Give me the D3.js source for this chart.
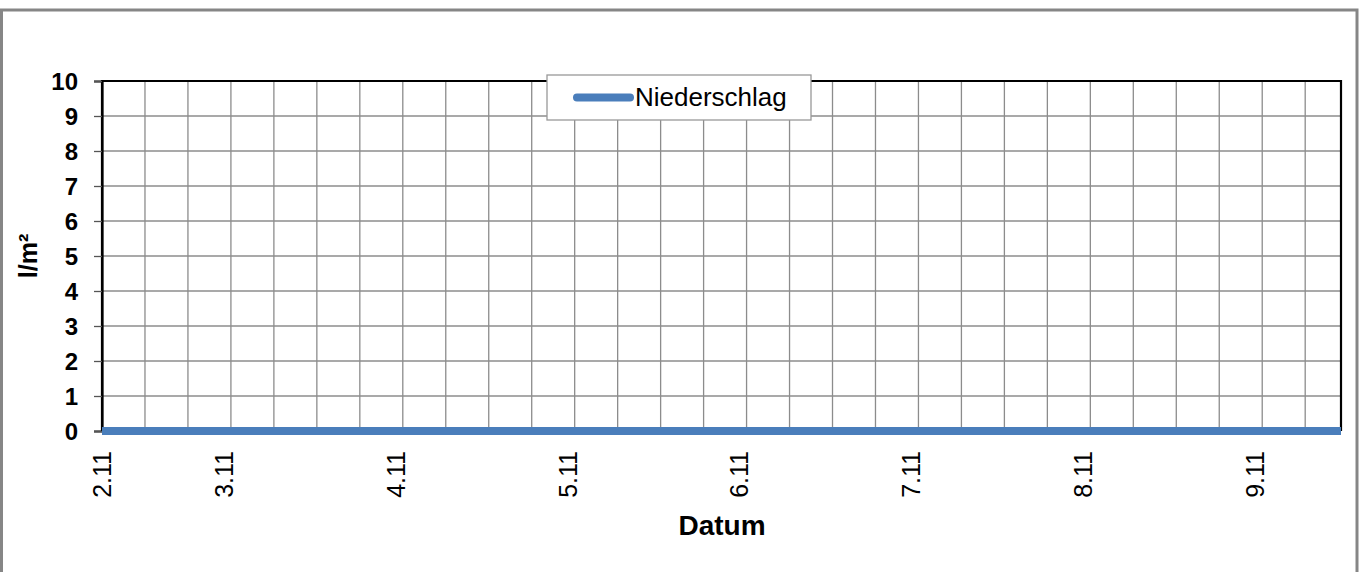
<!DOCTYPE html>
<html>
<head>
<meta charset="utf-8">
<script src="https://cdn.jsdelivr.net/npm/d3@7"></script>
<style>
  html, body { margin: 0; padding: 0; background: #fff; }
  svg { display: block; font-family: Arial, "Liberation Sans", sans-serif; }
</style>
</head>
<body>
<svg id="chart" width="1362" height="572"></svg>
<script>
// ---- data ----
const seriesName = "Niederschlag";
const startTime = "2011-11-02T07:00";          // first hourly reading
const endTime   = "2011-11-09T12:00";          // last hourly reading
// hourly precipitation (l/m²), 174 readings, all zero
const niederschlag = [
  0,0,0,0,0,0,0,0,0,0,0,0,0,0,0,0,0,0,0,0,0,0,0,0,0,0,0,0,0,
  0,0,0,0,0,0,0,0,0,0,0,0,0,0,0,0,0,0,0,0,0,0,0,0,0,0,0,0,0,
  0,0,0,0,0,0,0,0,0,0,0,0,0,0,0,0,0,0,0,0,0,0,0,0,0,0,0,0,0,
  0,0,0,0,0,0,0,0,0,0,0,0,0,0,0,0,0,0,0,0,0,0,0,0,0,0,0,0,0,
  0,0,0,0,0,0,0,0,0,0,0,0,0,0,0,0,0,0,0,0,0,0,0,0,0,0,0,0,0,
  0,0,0,0,0,0,0,0,0,0,0,0,0,0,0,0,0,0,0,0,0,0,0,0,0,0,0,0,0
];
const xTickTimes  = ["2011-11-02T07:00","2011-11-03T00:00","2011-11-04T00:00","2011-11-05T00:00",
                     "2011-11-06T00:00","2011-11-07T00:00","2011-11-08T00:00","2011-11-09T00:00"];
const xTickLabels = ["2.11","3.11","4.11","5.11","6.11","7.11","8.11","9.11"];
const yTicks = [0,1,2,3,4,5,6,7,8,9,10];
const yTitle = "l/m²";
const xTitle = "Datum";

(function () {
// ---- layout ----
const svg = d3.select("#chart");
const pLeft = 102, pRight = 1341, pTop = 81, pBottom = 431;
const parse = d3.isoParse;
const t0 = parse(startTime), t1 = parse(endTime);

const x = d3.scaleTime().domain([t0, t1]).range([pLeft, pRight]);
const y = d3.scaleLinear().domain([0, 10]).range([pBottom, pTop]);

const times = niederschlag.map((v, i) => d3.timeHour.offset(t0, i));
const gridTimes = times.filter((t, i) => i % 6 === 0);

// outer chart frame
svg.append("rect")
  .attr("x", 1.5).attr("y", 10).attr("width", 1355.5).attr("height", 620)
  .attr("fill", "none").attr("stroke", "#868686").attr("stroke-width", 3);

// gridlines
const g = svg.append("g");
g.selectAll("line.vg").data(gridTimes).join("line")
  .attr("x1", d => x(d)).attr("x2", d => x(d))
  .attr("y1", pTop).attr("y2", pBottom)
  .attr("stroke", "#8c8c8c").attr("stroke-width", 1.3);
g.selectAll("line.hg").data(yTicks).join("line")
  .attr("x1", pLeft).attr("x2", pRight)
  .attr("y1", d => y(d)).attr("y2", d => y(d))
  .attr("stroke", "#8c8c8c").attr("stroke-width", 1.3);

// plot border
svg.append("path")
  .attr("d", `M${pLeft},${pBottom}V${pTop}H${pRight}V${pBottom}`)
  .attr("fill", "none").attr("stroke", "#000").attr("stroke-width", 2.2);

// y axis
const yAxis = d3.axisLeft(y).tickValues(yTicks).tickSize(8).tickPadding(16);
const ya = svg.append("g").attr("transform", `translate(${pLeft},0)`).call(yAxis);
ya.select(".domain").attr("stroke", "#000").attr("stroke-width", 2.2);
ya.selectAll(".tick line").attr("stroke", "#555").attr("stroke-width", 1.3);
ya.selectAll(".tick text")
  .attr("font-family", "Arial, 'Liberation Sans', sans-serif")
  .attr("font-size", 24).attr("font-weight", "bold").attr("fill", "#000")
  .attr("dy", "0.36em");

// series line
const line = d3.line().x((d, i) => x(times[i])).y(d => y(d));
svg.append("path").datum(niederschlag)
  .attr("d", line)
  .attr("fill", "none").attr("stroke", "#4a7ebb").attr("stroke-width", 8);

// x tick labels (rotated)
svg.append("g").selectAll("text").data(xTickTimes).join("text")
  .attr("transform", d => `translate(${x(parse(d)) + 9},451) rotate(-90)`)
  .attr("text-anchor", "end")
  .attr("font-size", 25).attr("fill", "#000")
  .text((d, i) => xTickLabels[i]);

// axis titles
svg.append("text")
  .attr("transform", `translate(37,${(pTop + pBottom) / 2}) rotate(-90)`)
  .attr("text-anchor", "middle")
  .attr("font-size", 25).attr("font-weight", "bold").attr("fill", "#000")
  .text(yTitle);
svg.append("text")
  .attr("x", 722).attr("y", 535)
  .attr("text-anchor", "middle")
  .attr("font-size", 28).attr("font-weight", "bold").attr("fill", "#000")
  .text(xTitle);

// legend
const lg = svg.append("g");
lg.append("rect").attr("x", 547).attr("y", 75).attr("width", 264).attr("height", 45)
  .attr("fill", "#fff").attr("stroke", "#999").attr("stroke-width", 1.3);
lg.append("line").attr("x1", 577).attr("x2", 630).attr("y1", 97.5).attr("y2", 97.5)
  .attr("stroke", "#4a7ebb").attr("stroke-width", 8).attr("stroke-linecap", "round");
lg.append("text").attr("x", 635).attr("y", 106)
  .attr("font-size", 26).attr("fill", "#000").text(seriesName);
})();
</script>
</body>
</html>
